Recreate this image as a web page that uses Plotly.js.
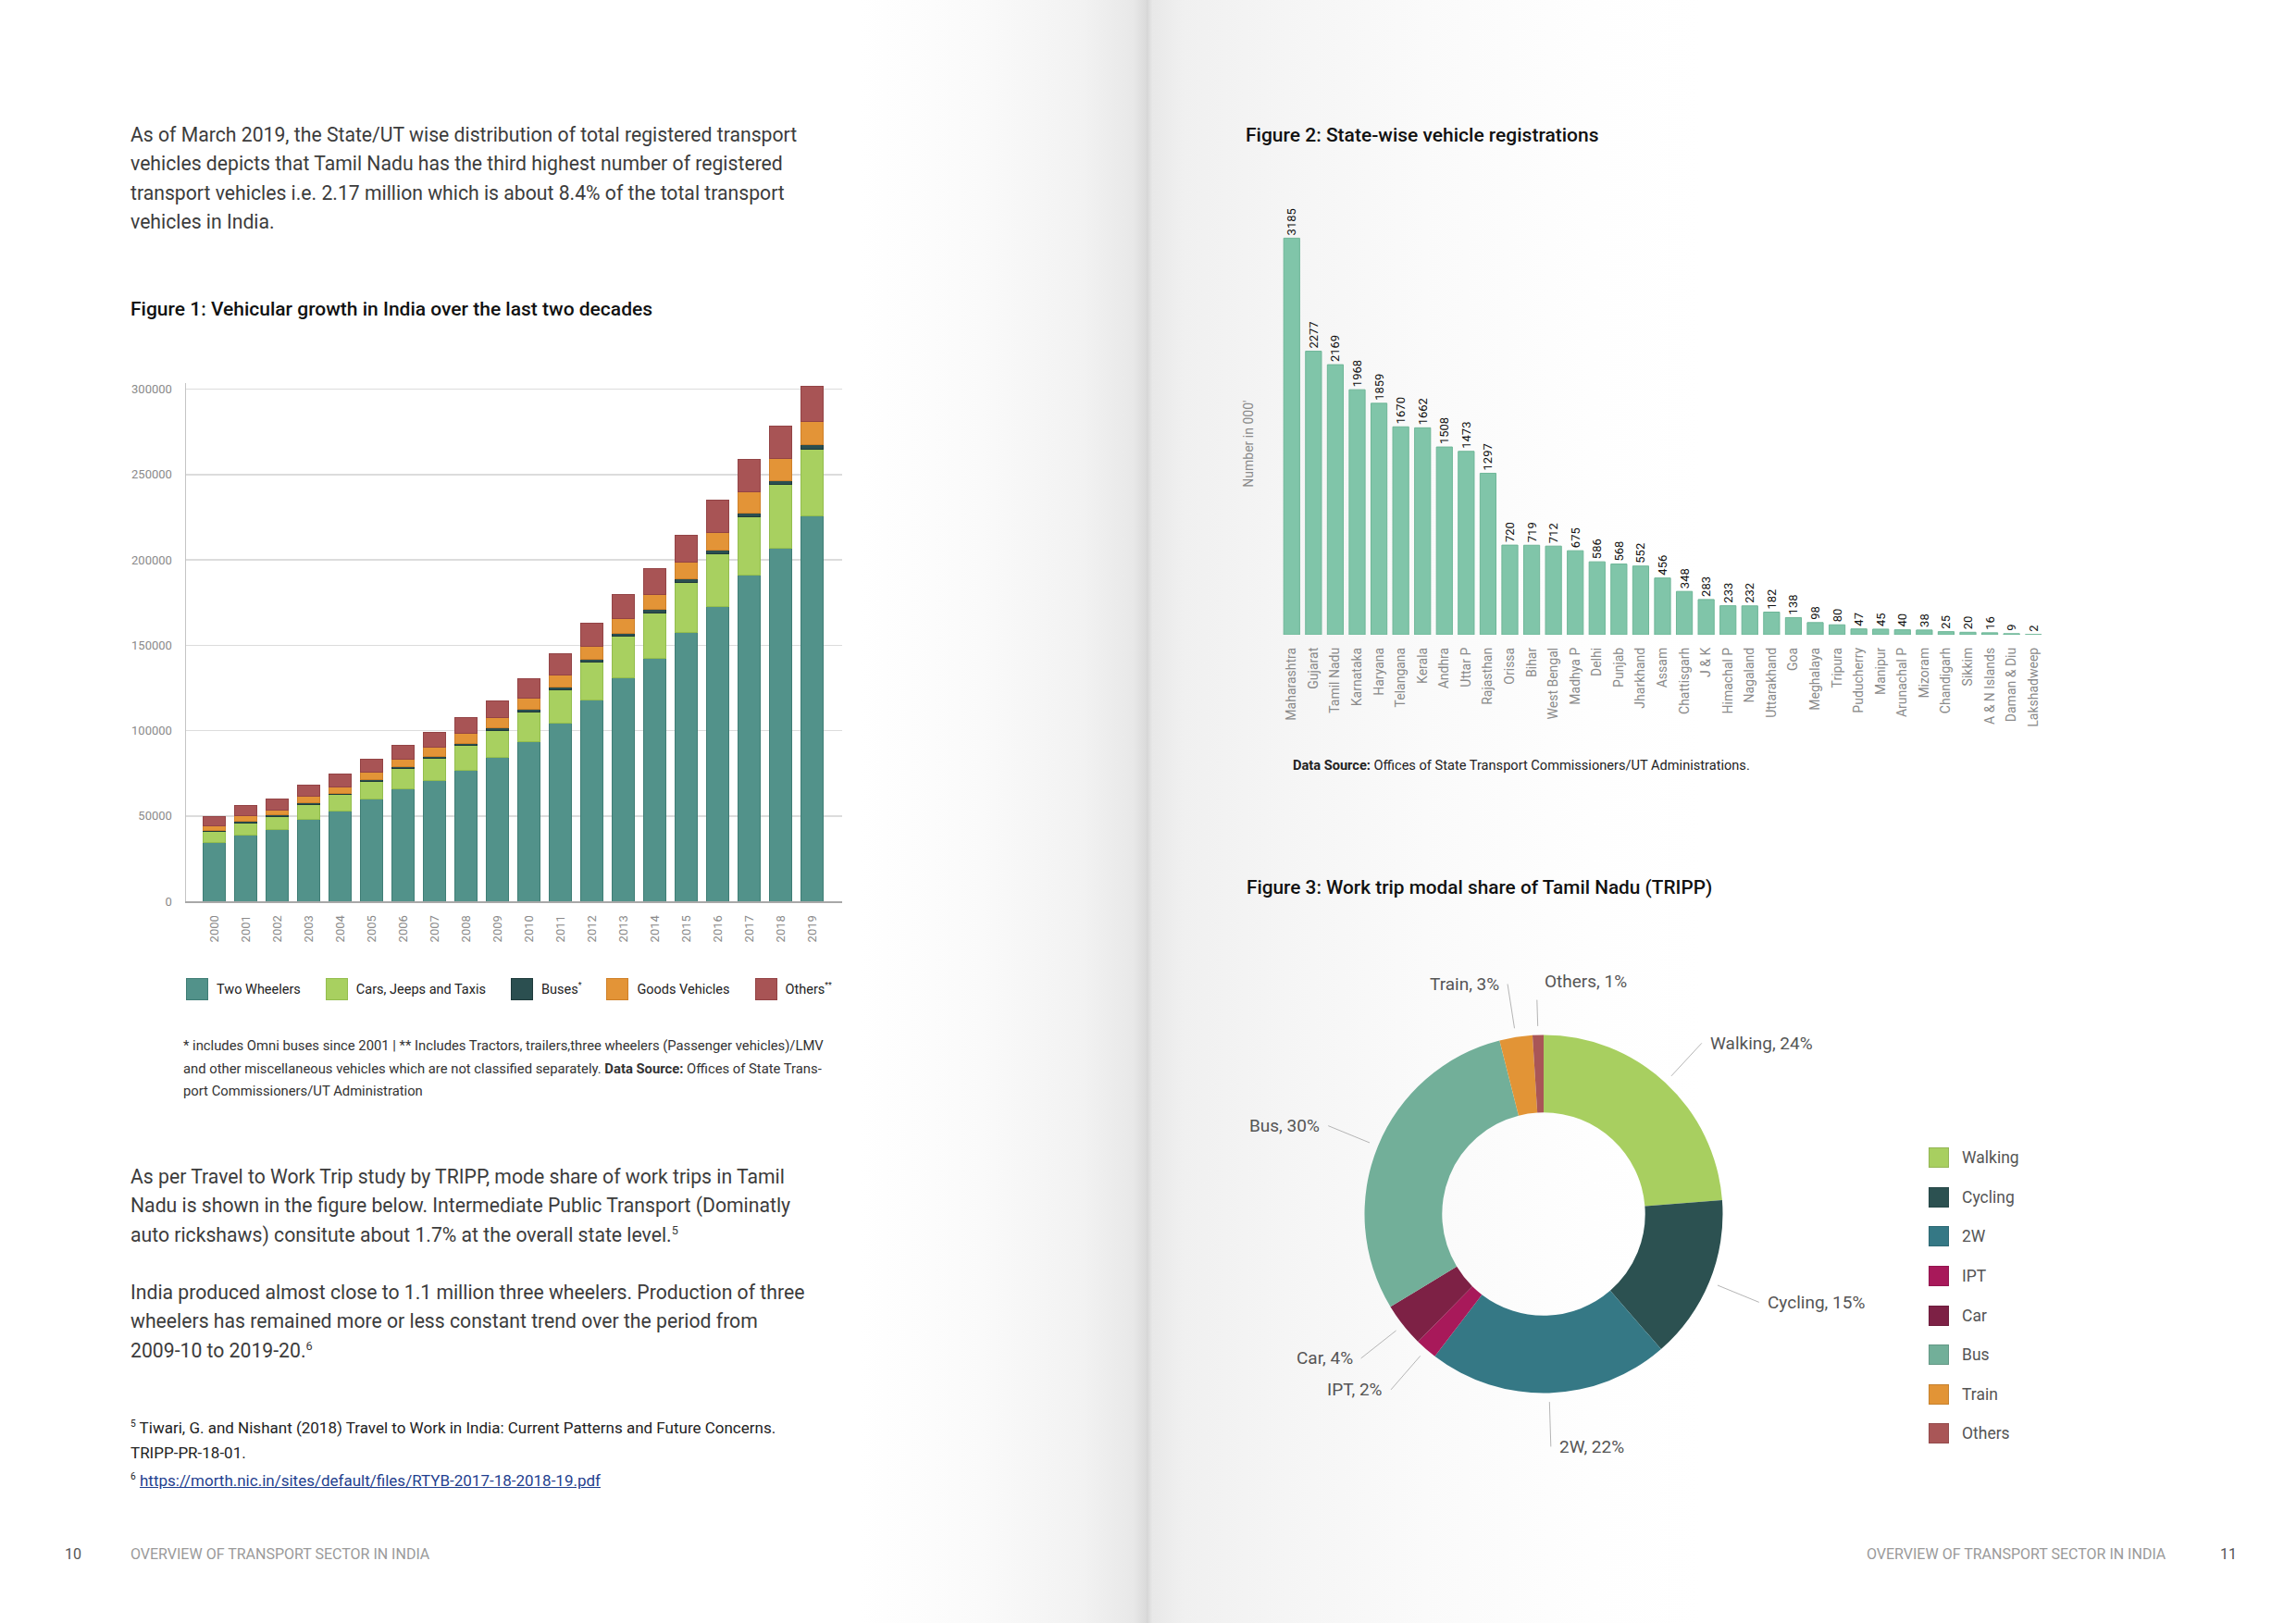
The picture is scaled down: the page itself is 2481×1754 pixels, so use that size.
<!DOCTYPE html>
<html><head><meta charset="utf-8">
<script src="https://cdn.plot.ly/plotly-3.0.1.min.js"></script>
<style>
html,body{margin:0;padding:0;}
body{width:2481px;height:1754px;position:relative;overflow:hidden;font-family:Roboto,'Liberation Sans',sans-serif;background:#fff;}
#leftpage{position:absolute;left:0;top:0;width:1239px;height:1754px;background:linear-gradient(to right,#fff 0px,#fff 930px,#fafafa 1060px,#f2f2f2 1170px,#e8e8e8 1225px,#dadada 1239px);}
#rightpage{position:absolute;left:1239px;top:0;width:1242px;height:1754px;background:linear-gradient(to right,#d4d4d4 0px,#e8e8e8 6px,#f0f0f0 40px,#f5f5f5 150px,#fafafa 300px,#fefefe 480px,#fff 600px);}
.txt{position:absolute;white-space:nowrap;color:#3c3c3c;}
.para{font-size:21.2px;line-height:31.3px;}
.ftitle{font-size:21px;line-height:26px;font-weight:500;color:#111;}
.plot{position:absolute;}
.foot{font-size:16px;line-height:20px;color:#9a9a9a;}
sup{font-size:60%;line-height:0;vertical-align:super;}
#leg1{position:absolute;left:201px;top:1057px;display:flex;gap:27px;font-size:14.5px;color:#222;}
#leg1 .it{display:flex;align-items:center;gap:9px;height:24px;}
#leg1 .sw{width:22px;height:22px;border:1px solid rgba(0,0,0,0.15);}
#leg3{position:absolute;left:2084px;top:1230px;font-size:17.5px;color:#555;}
#leg3 .it{display:flex;align-items:center;gap:14px;height:42.6px;}
#leg3 .sw{width:20px;height:20px;border:1px solid rgba(0,0,0,0.12);}
</style></head>
<body>
<div id="leftpage"></div>
<div id="rightpage"></div>

<div class="txt para" style="left:141px;top:130px;">As of March 2019, the State/UT wise distribution of total registered transport<br>vehicles depicts that Tamil Nadu has the third highest number of registered<br>transport vehicles i.e. 2.17 million which is about 8.4% of the total transport<br>vehicles in India.</div>

<div class="txt ftitle" style="left:141px;top:321px;">Figure 1: Vehicular growth in India over the last two decades</div>

<div id="fig1" class="plot" style="left:120px;top:380px;width:820px;height:680px;"></div>
<div id="leg1"></div>

<div class="txt" style="left:198px;top:1118px;font-size:14.8px;line-height:24.5px;color:#333;">* includes Omni buses since 2001 | ** Includes Tractors, trailers,three wheelers (Passenger vehicles)/LMV<br>and other miscellaneous vehicles which are not classified separately. <b>Data Source:</b> Offices of State Trans-<br>port Commissioners/UT Administration</div>

<div class="txt para" style="left:141px;top:1256px;">As per Travel to Work Trip study by TRIPP, mode share of work trips in Tamil<br>Nadu is shown in the figure below. Intermediate Public Transport (Dominatly<br>auto rickshaws) consitute about 1.7% at the overall state level.<sup>5</sup></div>

<div class="txt para" style="left:141px;top:1381px;">India produced almost close to 1.1 million three wheelers. Production of three<br>wheelers has remained more or less constant trend over the period from<br>2009-10 to 2019-20.<sup>6</sup></div>

<div class="txt" style="left:141px;top:1530px;font-size:17px;line-height:27px;color:#222;"><sup>5</sup> Tiwari, G. and Nishant (2018) Travel to Work in India: Current Patterns and Future Concerns.<br>TRIPP-PR-18-01.</div>
<div class="txt" style="left:141px;top:1587px;font-size:17px;line-height:27px;color:#222;"><sup>6</sup> <a style="color:#1f3f8f;text-decoration:underline;">https://morth.nic.in/sites/default/files/RTYB-2017-18-2018-19.pdf</a></div>

<div class="txt foot" style="left:70px;top:1670px;color:#555;">10</div>
<div class="txt foot" style="left:141px;top:1670px;">OVERVIEW OF TRANSPORT SECTOR IN INDIA</div>
<div class="txt foot" style="left:2017px;top:1670px;">OVERVIEW OF TRANSPORT SECTOR IN INDIA</div>
<div class="txt foot" style="left:2399px;top:1670px;color:#555;">11</div>

<div class="txt ftitle" style="left:1346px;top:133px;">Figure 2: State-wise vehicle registrations</div>
<div id="fig2" class="plot" style="left:1330px;top:150px;width:900px;height:720px;"></div>
<div class="txt" style="left:1397px;top:817px;font-size:14.6px;line-height:20px;color:#222;"><b>Data Source:</b> Offices of State Transport Commissioners/UT Administrations.</div>

<div class="txt ftitle" style="left:1347px;top:946px;font-size:20.8px;">Figure 3: Work trip modal share of Tamil Nadu (TRIPP)</div>
<div id="fig3" class="plot" style="left:1290px;top:992px;width:760px;height:640px;"></div>
<div id="leg3"></div>

<script>
// ---------- Figure 1 data (thousands) ----------
const years = ['2000','2001','2002','2003','2004','2005','2006','2007','2008','2009','2010','2011','2012','2013','2014','2015','2016','2017','2018','2019'];
const twoWheelers = [34400,39000,42200,48200,52900,59800,66000,70500,76800,84100,93500,104200,118000,130800,142400,157700,172700,191100,207100,226000];
const carsJeepsTaxis = [6350,7000,7450,8700,9600,10500,11600,13000,14500,15900,17600,19650,22000,24350,26700,29200,30650,34400,37100,39100];
const buses = [900,900,1000,900,900,1100,1250,1300,1300,1400,1450,1450,1800,2000,2200,2200,2200,2200,2200,2500];
const goodsVehicles = [2550,3100,2900,3600,3800,4200,4500,5300,5800,6100,6700,7400,7600,8500,8500,9400,10600,12300,13000,13700];
const othersVeh = [5450,6000,6350,6900,7100,7600,8150,8700,9200,9900,11200,12250,13500,14000,15200,16100,18900,18800,18900,20600];
const fig1Names = ['Two Wheelers','Cars, Jeeps and Taxis','Buses<sup>*</sup>','Goods Vehicles','Others<sup>**</sup>'];
const fig1Ticks = [0,50000,100000,150000,200000,250000,300000];

// ---------- Figure 2 data (in 000') ----------
const states = ['Maharashtra','Gujarat','Tamil Nadu','Karnataka','Haryana','Telangana','Kerala','Andhra','Uttar P','Rajasthan','Orissa','Bihar','West Bengal','Madhya P','Delhi','Punjab','Jharkhand','Assam','Chattisgarh','J & K','Himachal P','Nagaland','Uttarakhand','Goa','Meghalaya','Tripura','Puducherry','Manipur','Arunachal P','Mizoram','Chandigarh','Sikkim','A & N Islands','Daman & Diu','Lakshadweep'];
const registrations = [3185,2277,2169,1968,1859,1670,1662,1508,1473,1297,720,719,712,675,586,568,552,456,348,283,233,232,182,138,98,80,47,45,40,38,25,20,16,9,2];

// ---------- Figure 3 data (%) ----------
const modes = ['Walking','Cycling','2W','IPT','Car','Bus','Train','Others'];
const modeShare = [24,15,22,2,4,30,3,1];

// ---------- styles ----------
const fig1Colors = ['#52928a','#a8d060','#2b4f50','#e39437','#a85455'];
const fig1Lines = ['#3f7d75','#93bd4d','#1e3a3b','#cf8028','#934345'];
const fig2Color = '#80c5a9';
const fig3Colors = ['#a8cf60','#2c5151','#357885','#a8195a','#7d2145','#72af99','#e29436','#a95657'];

const cfg = {staticPlot:true, displayModeBar:false};

// Figure 1
const series1 = [twoWheelers, carsJeepsTaxis, buses, goodsVehicles, othersVeh];
const traces1 = series1.map((s,i)=>({
  type:'bar', x:years, y:s, name:fig1Names[i],
  marker:{color:fig1Colors[i], line:{color:fig1Lines[i], width:1}}
}));
Plotly.newPlot('fig1', traces1, {
  width:820, height:680, barmode:'stack', bargap:0.29, showlegend:false,
  margin:{l:81, r:30, t:34, b:86},
  paper_bgcolor:'rgba(0,0,0,0)', plot_bgcolor:'rgba(0,0,0,0)',
  font:{family:'Roboto, sans-serif'},
  xaxis:{type:'category', range:[-0.9,19.95], tickangle:-90, ticks:'', showline:true, linecolor:'#a8a8a8', linewidth:2,
         tickfont:{size:13, color:'#8a8a8a'}, ticklabelstandoff:8, showgrid:false},
  yaxis:{range:[0,303600], tickvals:fig1Ticks, tickformat:'d', ticks:'', showline:true, linecolor:'#c4c4c4', linewidth:1.5,
         gridcolor:'#dcdcdc', gridwidth:1.5, zeroline:false, tickfont:{size:13, color:'#8a8a8a'}, ticklabelstandoff:11}
}, cfg);

// Figure 1 legend
const leg1 = document.getElementById('leg1');
fig1Names.forEach((n,i)=>{
  const it=document.createElement('div'); it.className='it';
  it.innerHTML='<div class="sw" style="background:'+fig1Colors[i]+';border-color:'+fig1Lines[i]+'"></div><span>'+n+'</span>';
  leg1.appendChild(it);
});

// Figure 2
Plotly.newPlot('fig2', [{
  type:'bar', x:states, y:registrations,
  marker:{color:fig2Color, line:{color:'#6db697', width:1}},
  text:registrations.map(String), textposition:'outside', textangle:-90, cliponaxis:false,
  textfont:{size:13, color:'#111', family:'Roboto, sans-serif'}, constraintext:'none'
}], {
  width:900, height:720, bargap:0.27, showlegend:false,
  margin:{l:54, r:21, t:65, b:184.3},
  paper_bgcolor:'rgba(0,0,0,0)', plot_bgcolor:'rgba(0,0,0,0)',
  font:{family:'Roboto, sans-serif'},
  xaxis:{type:'category', range:[-0.5,34.5], tickangle:-90, ticks:'', showline:false, showgrid:false,
         tickfont:{size:14, color:'#8a8a8a'}, ticklabelstandoff:10},
  yaxis:{range:[0,3500], showticklabels:false, showgrid:false, zeroline:false, showline:false, ticks:''},
  annotations:[{text:"Number in 000'", xref:'paper', yref:'paper', x:-0.0418, y:0.437, xanchor:'center', yanchor:'middle',
    textangle:-90, showarrow:false, font:{size:14, color:'#8a8a8a'}}]
}, cfg);

// Figure 3
const W3=760, H3=640, cx=378, cy=320, R=193.5;
const total = modeShare.reduce((a,b)=>a+b,0);
let cum=0;
const ann3 = modes.map((m,i)=>{
  const th = 2*Math.PI*(cum + modeShare[i]/2)/total; cum += modeShare[i];
  const s=Math.sin(th), c=Math.cos(th);
  const rh=1.05*R, rt=1.30*R, d=rt-rh;
  return {text:m+', '+modeShare[i]+'%', xref:'paper', yref:'paper',
    x:(cx+rh*s)/W3, y:(H3-(cy-rh*c))/H3, ax:d*s, ay:-d*c,
    xanchor: s>-0.05?'left':'right', yanchor:'middle', borderpad:8,
    showarrow:true, arrowhead:0, arrowwidth:1, arrowcolor:'#b5b5b5', standoff:0,
    font:{size:19, color:'#555', family:'Roboto, sans-serif'}};
});
Plotly.newPlot('fig3', [{
  type:'pie', labels:modes, values:modeShare, hole:0.567, sort:false, direction:'clockwise', rotation:0,
  textinfo:'none', marker:{colors:fig3Colors, line:{width:0}},
  domain:{x:[(cx-R)/W3,(cx+R)/W3], y:[(H3-cy-R)/H3,(H3-cy+R)/H3]}
}], {
  width:W3, height:H3, showlegend:false, margin:{l:0,r:0,t:0,b:0},
  paper_bgcolor:'rgba(0,0,0,0)', annotations:ann3
}, cfg);

// Figure 3 legend
const leg3=document.getElementById('leg3');
modes.forEach((m,i)=>{
  const it=document.createElement('div'); it.className='it';
  it.innerHTML='<div class="sw" style="background:'+fig3Colors[i]+'"></div><span>'+m+'</span>';
  leg3.appendChild(it);
});
</script>
</body></html>
